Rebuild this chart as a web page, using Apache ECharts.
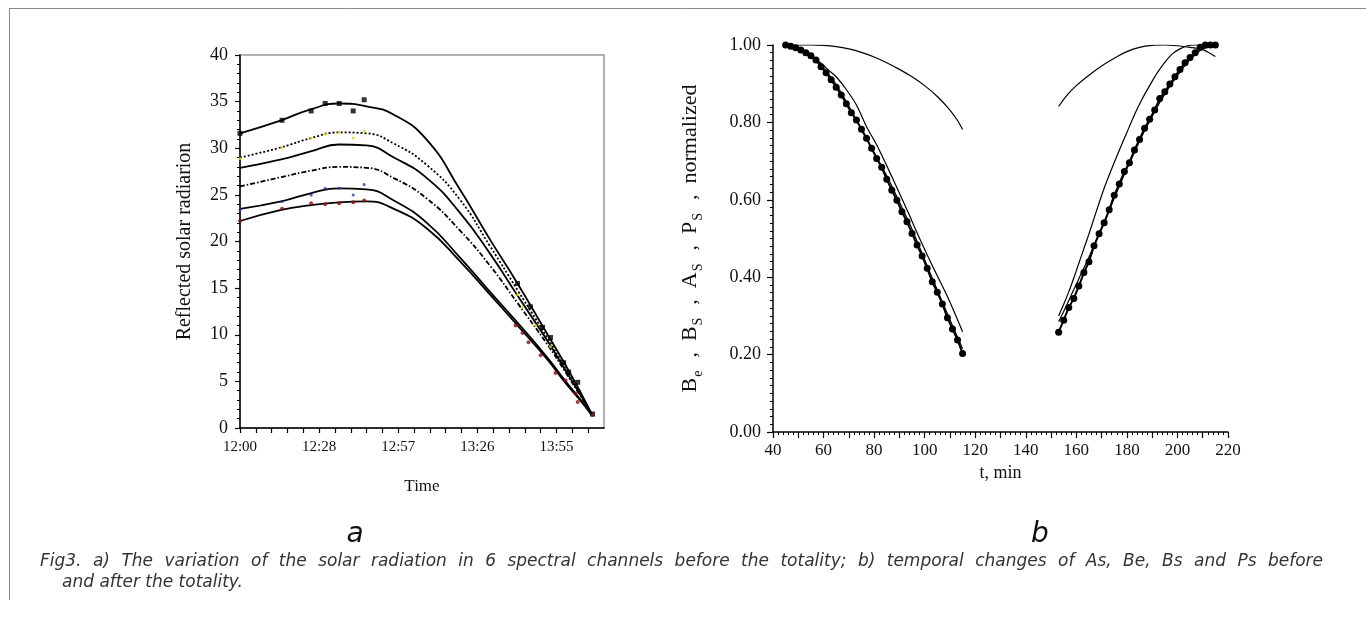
<!DOCTYPE html>
<html>
<head>
<meta charset="utf-8">
<script src="https://cdn.jsdelivr.net/npm/echarts@6/dist/echarts.min.js"></script>
<style>
  html, body { margin: 0; padding: 0; background: #fff; }
  #chart { width: 1366px; height: 628px; }
</style>
</head>
<body>
<div id="chart"></div>
<script>
// ---- panel a: reflected solar radiation, minutes after 12:00 ----
const fitT = [0, 15, 26, 36, 46, 56, 68, 80, 91, 101, 112, 118, 124, 128];
const ch1 = [31.6, 33.0, 34.2, 34.8, 34.5, 33.6, 30.9, 25.6, 20.2, 15.5, 10.0, 7.0, 3.8, 1.5];
const ch2 = [29.0, 30.1, 31.1, 31.7, 31.6, 30.5, 28.2, 24.5, 19.5, 14.8, 9.6, 6.6, 3.6, 1.5];
const ch3 = [27.9, 28.8, 29.7, 30.4, 30.3, 29.0, 26.8, 23.1, 18.7, 14.2, 9.3, 6.4, 3.5, 1.5];
const ch4 = [25.9, 26.9, 27.6, 28.0, 27.9, 26.8, 24.6, 21.2, 17.4, 13.4, 8.9, 6.2, 3.4, 1.5];
const ch5 = [23.5, 24.3, 25.2, 25.7, 25.6, 24.4, 22.0, 18.3, 14.6, 11.3, 7.5, 5.2, 3.0, 1.4];
const ch6 = [22.2, 23.4, 23.9, 24.2, 24.3, 23.5, 21.4, 17.9, 14.3, 11.0, 7.3, 5.0, 2.9, 1.4];

// measured points [minute, value]
const ch1Pts = [[0, 31.6], [15.3, 33.0], [25.9, 34.0], [31, 34.8], [36.1, 34.8], [41.2, 34.0], [45.2, 35.2],
  [101, 15.5], [105.7, 13.0], [110.1, 10.8], [113, 9.7], [117.8, 7.0], [119.6, 6.0], [122.9, 4.9], [128.3, 1.5]];
const ch2Pts = [[0, 28.9], [15.3, 30.1], [25.9, 31.1], [31, 31.5], [36.1, 31.7], [41.2, 31.1], [45.2, 31.8],
  [101, 14.3], [102.8, 13.0], [107.6, 11.0], [113, 8.7]];
const ch5Pts = [[0, 23.4], [15.3, 24.3], [25.9, 25.0], [31, 25.7], [36.1, 25.7], [41.2, 25.0], [45.2, 26.1]];
const ch6Pts = [[0, 22.2], [15.3, 23.5], [25.9, 24.1], [31, 24.0], [36.1, 24.1], [41.2, 24.2], [45.2, 24.4],
  [100.3, 11.0], [102.8, 10.2], [105, 9.2], [109.4, 7.8], [114.8, 5.9], [118.5, 5.1], [122.1, 3.7], [122.9, 2.8], [128.3, 1.4]];

// ---- panel b: normalized parameters vs t (min) ----
const dotDownT = [45, 47, 49, 51, 53, 55, 57, 59, 61, 63, 65, 67, 69, 71, 73, 75, 77, 79, 81, 83, 85, 87, 89, 91, 93, 95, 97, 99, 101, 103, 105, 107, 109, 111, 113, 115];
const dotDown = [1.000, 0.997, 0.993, 0.987, 0.980, 0.972, 0.961, 0.944, 0.928, 0.910, 0.891, 0.871, 0.848, 0.825, 0.806, 0.782, 0.759, 0.733, 0.707, 0.684, 0.653, 0.625, 0.599, 0.569, 0.543, 0.513, 0.483, 0.455, 0.423, 0.388, 0.361, 0.331, 0.295, 0.266, 0.238, 0.203];
const dotUpT = [153, 155, 157, 159, 161, 163, 165, 167, 169, 171, 173, 175, 177, 179, 181, 183, 185, 187, 189, 191, 193, 195, 197, 199, 201, 203, 205, 207, 209, 211, 213, 215];
const dotUp = [0.258, 0.289, 0.322, 0.345, 0.377, 0.412, 0.440, 0.481, 0.512, 0.541, 0.574, 0.612, 0.641, 0.673, 0.696, 0.729, 0.756, 0.785, 0.808, 0.832, 0.862, 0.879, 0.899, 0.918, 0.937, 0.954, 0.968, 0.980, 0.994, 1.000, 1.000, 1.000];

const flatDownT = [45, 50, 55, 60, 65, 70, 75, 80, 85, 90, 95, 100, 105, 110, 113, 115];
const flatDown = [1.0, 1.0, 1.0, 0.999, 0.996, 0.990, 0.981, 0.969, 0.954, 0.937, 0.918, 0.895, 0.867, 0.832, 0.805, 0.782];
const flatUpT = [153, 156, 160, 165, 170, 175, 180, 185, 190, 195, 200, 205, 210, 213, 215];
const flatUp = [0.841, 0.868, 0.895, 0.922, 0.946, 0.966, 0.983, 0.994, 0.999, 1.0, 0.998, 0.994, 0.988, 0.978, 0.970];

const nearDownT = [45, 50, 55, 60, 65, 70, 75, 80, 85, 90, 95, 100, 105, 110, 115];
const nearDown = [1.0, 0.990, 0.975, 0.940, 0.898, 0.842, 0.781, 0.722, 0.662, 0.594, 0.524, 0.445, 0.367, 0.290, 0.215];
const farDownT = [45, 50, 55, 59, 62, 65, 69, 73, 77, 81, 87, 93, 98, 103, 109, 115];
const farDown = [1.0, 0.992, 0.975, 0.953, 0.935, 0.918, 0.885, 0.845, 0.789, 0.742, 0.660, 0.574, 0.500, 0.430, 0.350, 0.259];

const steepUpT = [153, 155, 157, 159, 161, 163, 165, 168, 171, 174, 177, 180, 183, 186, 189, 192, 195, 198, 201, 204, 207, 209];
const steepUp = [0.300, 0.330, 0.362, 0.398, 0.436, 0.474, 0.512, 0.572, 0.630, 0.680, 0.728, 0.774, 0.820, 0.860, 0.895, 0.928, 0.955, 0.977, 0.990, 0.998, 1.0, 1.0];
const nearUpT = [153, 156, 159, 162, 165, 168, 171, 174, 177, 180, 183, 186, 189, 192, 195, 198, 201, 204, 207, 210, 213];
const nearUp = [0.285, 0.325, 0.368, 0.410, 0.452, 0.497, 0.540, 0.588, 0.635, 0.680, 0.723, 0.765, 0.803, 0.840, 0.873, 0.903, 0.930, 0.955, 0.975, 0.990, 0.995];

const captionLine1 = 'Fig3. a) The variation of the solar radiation in 6 spectral channels before the totality; b) temporal changes of As, Be, Bs and Ps before';
const captionLine2 = 'and after the totality.';

const zip = (xs, ys) => xs.map((x, i) => [x, ys[i]]);
const serif = 'Liberation Serif';
const capFont = 'italic 17px "DejaVu Sans"';

function hhmm(v) {
  const m = Math.floor(v + 1e-6);
  return (12 + Math.floor(m / 60)) + ':' + String(m % 60).padStart(2, '0');
}

// justified first caption line, like the paper layout
function justified(text, x0, x1, y) {
  const ctx = document.createElement('canvas').getContext('2d');
  ctx.font = capFont;
  const words = text.split(' ');
  const widths = words.map(w => ctx.measureText(w).width);
  const total = widths.reduce((a, b) => a + b, 0);
  const gap = (x1 - x0 - total) / (words.length - 1);
  let x = x0;
  return words.map((w, i) => {
    const el = { type: 'text', x: x, y: y, style: { text: w, font: capFont, fill: '#333', textVerticalAlign: 'middle' } };
    x += widths[i] + gap;
    return el;
  });
}

const chart = echarts.init(document.getElementById('chart'));

function fitLine(name, data, type) {
  return {
    name: name, type: 'line', xAxisIndex: 0, yAxisIndex: 0,
    data: zip(fitT, data), smooth: 0.5, showSymbol: false, z: 3,
    lineStyle: { color: '#000', width: 1.8, type: type }
  };
}
function pts(name, data, color, symbol, size) {
  return {
    name: name, type: 'scatter', xAxisIndex: 0, yAxisIndex: 0,
    data: data, symbol: symbol, symbolSize: size, z: 4,
    itemStyle: { color: color }
  };
}
function thin(data, width) {
  return {
    type: 'line', xAxisIndex: 1, yAxisIndex: 1, data: data,
    showSymbol: false, smooth: 0.3, z: 3,
    lineStyle: { color: '#000', width: width || 1.2 }
  };
}

const option = {
  animation: false,
  backgroundColor: '#fff',
  grid: [
    { left: 240, top: 55, width: 364, height: 373, show: true, borderColor: '#999', borderWidth: 1.5 },
    { left: 773, top: 45, width: 455, height: 387 }
  ],
  xAxis: [
    {
      gridIndex: 0, type: 'value', min: 0, max: 132.48, interval: 5.76,
      name: 'Time', nameLocation: 'middle', nameGap: 50,
      nameTextStyle: { fontFamily: serif, fontSize: 17, color: '#111' },
      axisLine: { lineStyle: { color: '#000', width: 1.5 } },
      axisTick: { length: 5, lineStyle: { color: '#000', width: 1.2 } },
      splitLine: { show: false },
      axisLabel: {
        fontFamily: serif, fontSize: 15, color: '#111', margin: 12, showMaxLabel: false,
        formatter: function (v) {
          const k = v / 28.8;
          return Math.abs(k - Math.round(k)) < 1e-4 ? hhmm(v) : '';
        }
      }
    },
    {
      gridIndex: 1, type: 'value', min: 40, max: 220, interval: 10,
      name: 't, min', nameLocation: 'middle', nameGap: 28,
      nameTextStyle: { fontFamily: serif, fontSize: 18, color: '#111' },
      axisLine: { lineStyle: { color: '#000', width: 1.5 } },
      axisTick: { length: 6, lineStyle: { color: '#000', width: 1.2 } },
      minorTick: { show: true, splitNumber: 5, length: 3, lineStyle: { color: '#000', width: 1 } },
      splitLine: { show: false },
      axisLabel: {
        fontFamily: serif, fontSize: 17, color: '#111', margin: 10,
        formatter: function (v) { return v % 20 === 0 ? String(v) : ''; }
      }
    }
  ],
  yAxis: [
    {
      gridIndex: 0, type: 'value', min: 0, max: 40, interval: 5,
      name: 'Reflected solar radiarion', nameLocation: 'middle', nameGap: 45,
      nameTextStyle: { fontFamily: serif, fontSize: 20, color: '#111' },
      axisLine: { show: true, lineStyle: { color: '#000', width: 1.5 } },
      axisTick: { show: true, length: 5, lineStyle: { color: '#000', width: 1.2 } },
      minorTick: { show: true, splitNumber: 5, length: 3, lineStyle: { color: '#000', width: 1 } },
      splitLine: { show: false },
      axisLabel: { fontFamily: serif, fontSize: 18, color: '#111', margin: 12 }
    },
    {
      gridIndex: 1, type: 'value', min: 0, max: 1, interval: 0.2,
      name: '{m|B}{s|e}{m|  ,  B}{s|S}{m|  ,  A}{s|S}{m|  ,  P}{s|S}{m|  ,  normalized}',
      nameLocation: 'middle', nameGap: 68,
      nameTextStyle: {
        fontFamily: serif, fontSize: 22, color: '#111',
        rich: {
          m: { fontFamily: serif, fontSize: 22, color: '#111', lineHeight: 30, verticalAlign: 'middle' },
          s: { fontFamily: serif, fontSize: 14, color: '#111', lineHeight: 30, verticalAlign: 'bottom', padding: [0, 2, 0, 1] }
        }
      },
      axisLine: { show: true, lineStyle: { color: '#000', width: 1.5 } },
      axisTick: { show: true, length: 6, lineStyle: { color: '#000', width: 1.2 } },
      minorTick: { show: true, splitNumber: 10, length: 3, lineStyle: { color: '#000', width: 1 } },
      splitLine: { show: false },
      axisLabel: {
        fontFamily: serif, fontSize: 18, color: '#111', margin: 12,
        formatter: function (v) { return v.toFixed(2); }
      }
    }
  ],
  series: [
    fitLine('ch1', ch1, 'solid'),
    fitLine('ch2', ch2, [2, 2]),
    fitLine('ch3', ch3, 'solid'),
    fitLine('ch4', ch4, [5, 2, 1.5, 2]),
    fitLine('ch5', ch5, 'solid'),
    fitLine('ch6', ch6, 'solid'),
    pts('ch1 pts', ch1Pts, '#000', 'rect', 5),
    pts('ch2 pts', ch2Pts, '#e6d400', 'circle', 3),
    pts('ch5 pts', ch5Pts, '#2233aa', 'circle', 3),
    pts('ch6 pts', ch6Pts, '#8b1010', 'circle', 4),

    thin(zip(flatDownT, flatDown)),
    thin(zip(flatUpT, flatUp)),
    thin(zip(nearDownT, nearDown)),
    thin(zip(farDownT, farDown)),
    thin(zip(steepUpT, steepUp)),
    thin(zip(nearUpT, nearUp)),
    {
      type: 'line', xAxisIndex: 1, yAxisIndex: 1, data: zip(dotDownT, dotDown),
      symbol: 'circle', symbolSize: 7, z: 4,
      itemStyle: { color: '#000' }, lineStyle: { color: '#000', width: 2 }
    },
    {
      type: 'line', xAxisIndex: 1, yAxisIndex: 1, data: zip(dotUpT, dotUp),
      symbol: 'circle', symbolSize: 7, z: 4,
      itemStyle: { color: '#000' }, lineStyle: { color: '#000', width: 2 }
    }
  ],
  graphic: [
    { type: 'line', shape: { x1: 9.5, y1: 8, x2: 9.5, y2: 600 }, style: { stroke: '#888', lineWidth: 1 } },
    { type: 'line', shape: { x1: 9.5, y1: 8.5, x2: 1366, y2: 8.5 }, style: { stroke: '#888', lineWidth: 1 } },
    { type: 'text', x: 355, y: 535, style: { text: 'a', font: 'italic 28px "DejaVu Sans"', fill: '#111', textAlign: 'center', textVerticalAlign: 'middle' } },
    { type: 'text', x: 1040, y: 535, style: { text: 'b', font: 'italic 28px "DejaVu Sans"', fill: '#111', textAlign: 'center', textVerticalAlign: 'middle' } },
    { type: 'text', x: 62, y: 583, style: { text: captionLine2, font: capFont, fill: '#333', textVerticalAlign: 'middle' } }
  ].concat(justified(captionLine1, 40, 1323, 562))
};

chart.setOption(option);
</script>
</body>
</html>
